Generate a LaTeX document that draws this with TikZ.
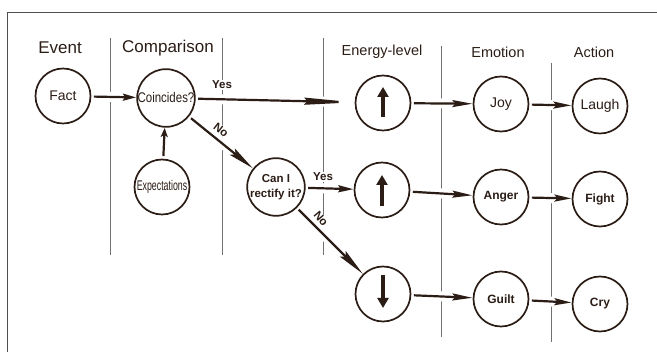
\documentclass[tikz,border=0pt]{standalone}
\usepackage{fontspec}
\setmainfont{Liberation Sans}
\usetikzlibrary{arrows.meta,backgrounds,calc}
\definecolor{ink}{HTML}{2B1D16}
\definecolor{rulegray}{HTML}{707070}
\definecolor{framegray}{HTML}{505050}
\begin{document}
\begin{tikzpicture}[x=1pt,y=-1pt,
  circ/.style={circle,draw=ink,line width=1.7pt,minimum size=55pt,inner sep=0pt,fill=white,text=ink},
  reg/.style={font=\fontsize{14}{16}\selectfont},
  bld/.style={font=\fontsize{12}{15}\selectfont\bfseries},
  hdrbig/.style={font=\fontsize{17}{18}\selectfont,text=ink},
  hdrsmall/.style={font=\fontsize{14.5}{16}\selectfont,text=ink},
  lbl/.style={font=\fontsize{11.5}{13}\selectfont\bfseries,text=ink,fill=white,inner sep=0.5pt},
  arr/.style={draw=ink,line width=2.2pt,shorten <=2.5pt,shorten >=0.3pt},
  halo/.style={draw=white,line width=10pt,shorten <=4pt,shorten >=4pt},
  divider/.style={draw=rulegray,line width=0.8pt},
  updn/.style={draw=ink,line width=4.5pt,-{Triangle[length=10pt,width=11pt]}},
]
\useasboundingbox (0,0) rectangle (657,352);
\draw[framegray,line width=1pt] (7,352) -- (7,13) -- (657,13);

% headers
\node[hdrbig] (h1) at (60,48) {Event};
\node[hdrbig] (h2) at (168,48) {Comparison};
\node[hdrsmall] (h3) at (382,52) {Energy-level};
\node[hdrsmall] (h4) at (498,52) {Emotion};
\node[hdrsmall] (h5) at (594,52) {Action};

% circles
\node[circ,reg] (fact) at (63,96) {Fact};
\node[circ,reg,minimum size=56pt] (coinc) at (166,98) {\scalebox{0.82}[1]{Coincides?}};
\node[circ,reg] (expect) at (162,187) {\scalebox{0.63}[1]{Expectations}};
\node[circ,bld,align=center,font=\fontsize{11.5}{15}\selectfont\bfseries] (cani) at (276,187) {Can I\\rectify it?};
\node[circ] (e1) at (383,103) {};
\node[circ] (e2) at (382,190) {};
\node[circ] (e3) at (383,294) {};
\node[circ,reg] (joy) at (501,104) {Joy};
\node[circ,bld] (anger) at (501,197) {Anger};
\node[circ,bld] (guilt) at (501,299) {Guilt};
\node[circ,reg] (laugh) at (600,106) {Laugh};
\node[circ,bld] (fight) at (600,199) {Fight};
\node[circ,bld] (cry) at (600,304) {Cry};

% arrows inside energy circles
\draw[updn] ($(e1)+(0,14)$) -- ($(e1)+(0,-16)$);
\draw[updn] ($(e2)+(0,16)$) -- ($(e2)+(0,-15)$);
\draw[updn] ($(e3)+(0,-19)$) -- ($(e3)+(0,14)$);

\begin{scope}[on background layer]
  \draw[divider] (110,38) -- (110,255);
  \draw[divider] (222,38) -- (222,255);
  \draw[divider] (323,38) -- (323,255);
  \draw[divider] (441,46) -- (441,337);
  \draw[divider] (551,63) -- (551,342);
  \foreach \a/\b in {fact/coinc,expect/coinc,coinc/e1,coinc/cani,cani/e2,cani/e3,e1/joy,e2/anger,e3/guilt,joy/laugh,anger/fight,guilt/cry}
    \draw[halo] (\a) -- (\b);
  \node[lbl] (y1) at (222,85) {Yes};
  \node[lbl] (y2) at (323,177) {Yes};
  \node[lbl,rotate=-38] (n1) at (221,130) {No};
  \node[lbl,rotate=-50] (n2) at (321,219) {No};
\end{scope}

% connectors
\draw[arr,-{Stealth[length=13pt,width=7pt,inset=2pt]}] (fact) -- (coinc);
\draw[arr,-{Stealth[length=9pt,width=7pt,inset=2pt]}] (expect) -- (coinc);
\draw[arr,-{Stealth[length=50pt,width=7pt,inset=3pt]}] (coinc) -- (e1);
\draw[arr,-{Stealth[length=26pt,width=8pt,inset=4pt]}] (coinc) -- (cani);
\draw[arr,-{Stealth[length=15pt,width=7pt,inset=2pt]}] (cani) -- (e2);
\draw[arr,-{Stealth[length=28pt,width=8pt,inset=4pt]}] (cani) -- (e3);
\draw[arr,-{Stealth[length=20pt,width=7pt,inset=3pt]}] (e1) -- (joy);
\draw[arr,-{Stealth[length=20pt,width=7pt,inset=3pt]}] (e2) -- (anger);
\draw[arr,-{Stealth[length=20pt,width=7pt,inset=3pt]}] (e3) -- (guilt);
\draw[arr,-{Stealth[length=18pt,width=7pt,inset=3pt]}] (joy) -- (laugh);
\draw[arr,-{Stealth[length=17pt,width=7pt,inset=3pt]}] (anger) -- (fight);
\draw[arr,-{Stealth[length=17pt,width=7pt,inset=3pt]}] (guilt) -- (cry);
\end{tikzpicture}
\end{document}
